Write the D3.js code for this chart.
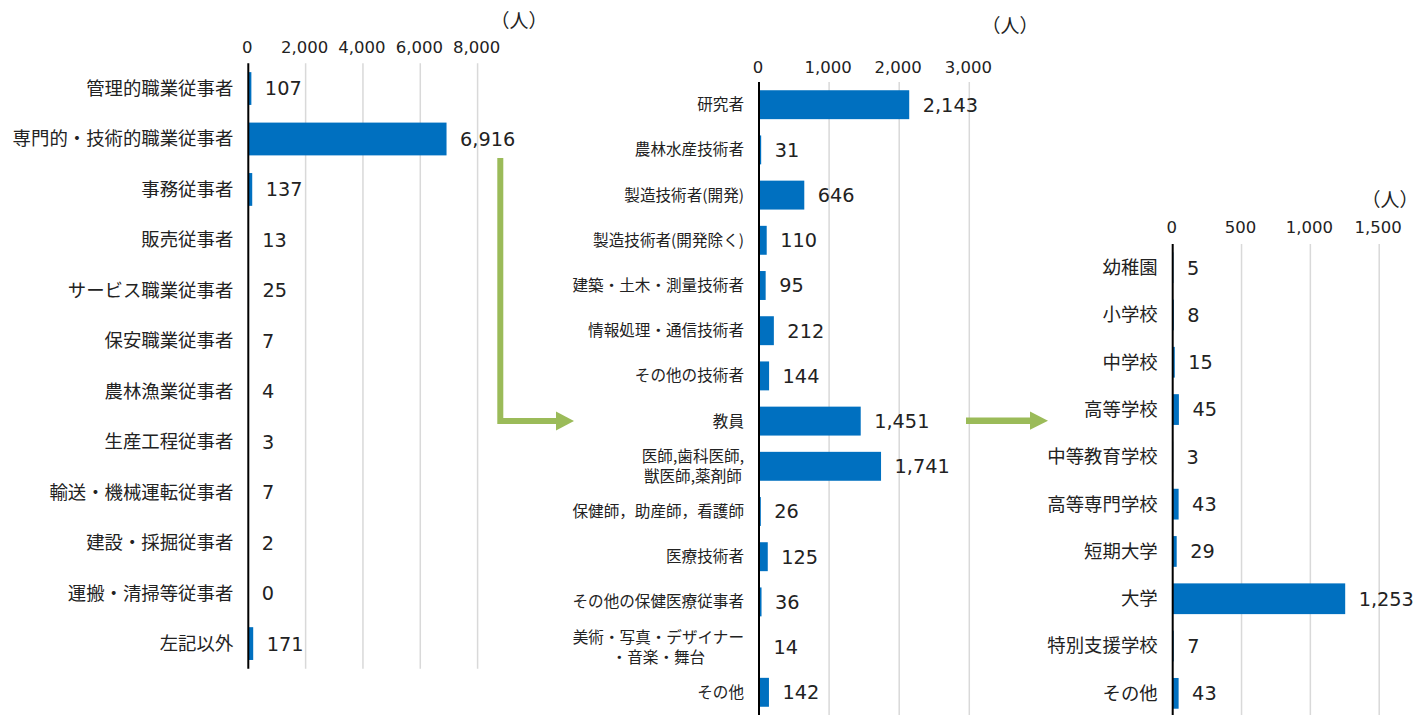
<!DOCTYPE html>
<html><head><meta charset="utf-8">
<script src="https://cdn.jsdelivr.net/npm/d3@7/dist/d3.min.js"></script>
<style>
html,body{margin:0;padding:0;background:#fff;}
svg{display:block;}
.unit{font-feature-settings:"halt";}
</style></head>
<body>
<svg id="chart" width="1414" height="715"></svg>
<script>
// ---- data ----
const cats1 = ["管理的職業従事者","専門的・技術的職業従事者","事務従事者","販売従事者","サービス職業従事者","保安職業従事者","農林漁業従事者","生産工程従事者","輸送・機械運転従事者","建設・採掘従事者","運搬・清掃等従事者","左記以外"];
const vals1 = [107,6916,137,13,25,7,4,3,7,2,0,171];
const ticks1 = [0,2000,4000,6000,8000];

const cats2 = ["研究者","農林水産技術者","製造技術者(開発)","製造技術者(開発除く)","建築・土木・測量技術者","情報処理・通信技術者","その他の技術者","教員","医師,歯科医師,\n獣医師,薬剤師","保健師，助産師，看護師","医療技術者","その他の保健医療従事者","美術・写真・デザイナー\n・音楽・舞台","その他"];
const vals2 = [2143,31,646,110,95,212,144,1451,1741,26,125,36,14,142];
const ticks2 = [0,1000,2000,3000];

const cats3 = ["幼稚園","小学校","中学校","高等学校","中等教育学校","高等専門学校","短期大学","大学","特別支援学校","その他"];
const vals3 = [5,8,15,45,3,43,29,1253,7,43];
const ticks3 = [0,500,1000,1500];

const unitLabel = "（人）";

// ---- drawing ----
const svg = d3.select("#chart");
const BAR = "#0070C0", GRID = "#D9D9D9", GREEN = "#9BBB59";
const JP = "'Noto Sans CJK JP','Noto Sans',sans-serif";
const NUM = "'DejaVu Sans',sans-serif";
const fmt = d3.format(",");

function panel(cfg){
  const {cats, vals, ticks, x0, x1, top, bottom, pad, catSize, tickY, unitX, unitY, gridBottom} = cfg;
  const g = svg.append("g");
  const x = d3.scaleLinear().domain([0, ticks[ticks.length-1]]).range([x0, x1]);
  const y = d3.scaleBand().domain(cats).range([top, bottom]).paddingInner(pad).paddingOuter(pad/2);

  // gridlines
  g.append("g").selectAll("line").data(ticks.slice(1)).join("line")
    .attr("x1", d=>x(d)).attr("x2", d=>x(d))
    .attr("y1", top).attr("y2", gridBottom)
    .attr("stroke", GRID).attr("stroke-width", 1.5);

  // tick labels via axis
  const ax = g.append("g").attr("transform", `translate(0,${tickY})`)
    .call(d3.axisTop(x).tickValues(ticks).tickFormat(fmt).tickSize(0).tickPadding(0));
  ax.select(".domain").remove();
  ax.selectAll("text").attr("font-family", NUM).attr("font-size", 16.5)
    .attr("fill", "#222").attr("dy", "0.35em").attr("dx", -1.5);

  // bars
  g.append("g").selectAll("rect").data(vals).join("rect")
    .attr("x", x(0))
    .attr("y", (d,i)=>y(cats[i]))
    .attr("width", d=>Math.max(0, x(d)-x(0)))
    .attr("height", y.bandwidth())
    .attr("fill", BAR);

  // value labels
  g.append("g").selectAll("text").data(vals).join("text")
    .attr("x", d=>x(d)+13.5)
    .attr("y", (d,i)=>y(cats[i]) + y.bandwidth()/2)
    .attr("dy", "0.36em")
    .attr("font-family", NUM).attr("font-size", 19.3).attr("fill", "#222")
    .text(d=>fmt(d));

  // category labels
  const right = x0 - 15;
  const lg = g.append("g");
  cats.forEach((c,i)=>{
    const lines = c.split("\n");
    const cy = y(c) + y.bandwidth()/2;
    const lh = 20;
    const t = lg.append("text").attr("font-family", JP).attr("font-size", catSize).attr("fill", "#222");
    lines.forEach((ln,k)=>{
      t.append("tspan").attr("y", cy + (k-(lines.length-1)/2)*lh).attr("dy","0.35em").text(ln);
    });
    if(lines.length===1){
      t.attr("text-anchor","end").selectAll("tspan").attr("x", right);
    } else {
      let maxW = 0;
      t.selectAll("tspan").each(function(){ maxW = Math.max(maxW, this.getComputedTextLength()); });
      t.attr("text-anchor","middle").selectAll("tspan").attr("x", right - maxW/2);
    }
  });

  // axis line
  g.append("line").attr("x1", x(0)).attr("x2", x(0)).attr("y1", top).attr("y2", gridBottom)
    .attr("stroke", "#000").attr("stroke-width", 2);

  // unit
  g.append("text").attr("class","unit").attr("x", unitX).attr("y", unitY).attr("dy","0.35em")
    .attr("text-anchor","middle").attr("font-family", JP).attr("font-size", 19)
    .attr("fill","#222").text(unitLabel);
  return {x,y};
}

panel({cats:cats1, vals:vals1, ticks:ticks1, x0:248.3, x1:477.6, top:63.3, bottom:668.8, pad:0.35,
  catSize:18.4, tickY:47.5, unitX:519, unitY:21, gridBottom:668.8});
panel({cats:cats2, vals:vals2, ticks:ticks2, x0:759, x1:969.3, top:82.1, bottom:714.9, pad:0.36,
  catSize:15.6, tickY:67, unitX:1010, unitY:26, gridBottom:715});
panel({cats:cats3, vals:vals3, ticks:ticks3, x0:1172.7, x1:1379.2, top:244, bottom:717, pad:0.35,
  catSize:18.4, tickY:227, unitX:1390, unitY:200, gridBottom:715});

// ---- arrows (annotations) ----
svg.append("path").attr("d","M500.3,158 V421 H557")
  .attr("fill","none").attr("stroke",GREEN).attr("stroke-width",6);
svg.append("path").attr("d","M556,411.5 L574,421 L556,430.5 Z").attr("fill",GREEN);
svg.append("path").attr("d","M966,420.7 H1031")
  .attr("fill","none").attr("stroke",GREEN).attr("stroke-width",6.5);
svg.append("path").attr("d","M1030,411.5 L1048,420.7 L1030,429.8 Z").attr("fill",GREEN);
</script>
</body></html>
